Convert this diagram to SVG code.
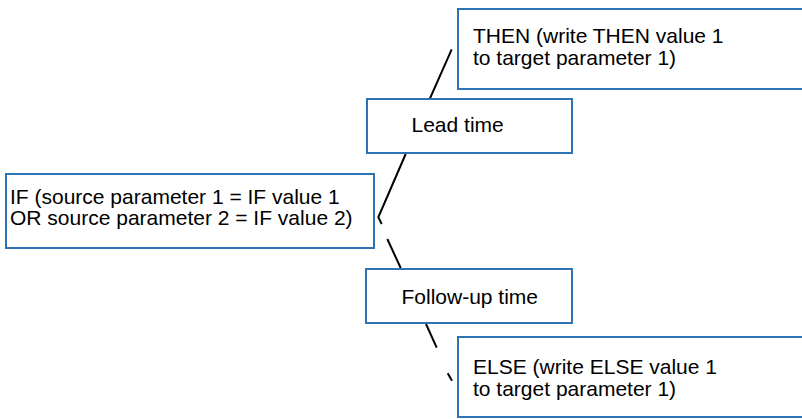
<svg xmlns="http://www.w3.org/2000/svg" width="802" height="419" viewBox="0 0 802 419">
<style>
.box{fill:#fff;stroke:#2E74B5;stroke-width:2}
.t{font-family:"Liberation Sans",Arial,sans-serif;font-size:21px;fill:#000}
.ln{stroke:#000;stroke-width:2;fill:none}
</style>
<rect width="802" height="419" fill="#fff"/>
<g id="connectors">
<line class="ln" x1="451.7" y1="49.3" x2="430" y2="98.3"/>
<polyline class="ln" points="405.7,154 378.3,217.3 381.7,224"/>
<line class="ln" x1="387.3" y1="239" x2="400.7" y2="268"/>
<line class="ln" x1="426" y1="324" x2="436.7" y2="347.7"/>
<line class="ln" x1="447.7" y1="373.3" x2="452" y2="380.7"/>
</g>
<g id="then">
<rect class="box" x="458" y="9" width="360" height="80"/>
<text class="t" x="473" y="43">THEN (write THEN value 1</text>
<text class="t" x="473" y="65">to target parameter 1)</text>
</g>
<g id="lead">
<rect class="box" x="367" y="99" width="205" height="54"/>
<text class="t" x="411.5" y="132">Lead time</text>
</g>
<g id="if">
<rect class="box" x="6" y="174" width="368" height="74"/>
<text class="t" x="10" y="203.5">IF (source parameter 1 = IF value 1</text>
<text class="t" x="10" y="224.5">OR source parameter 2 = IF value 2)</text>
</g>
<g id="followup">
<rect class="box" x="366" y="269" width="206" height="54"/>
<text class="t" x="401.5" y="303.5">Follow-up time</text>
</g>
<g id="else">
<rect class="box" x="458" y="337" width="360" height="80"/>
<text class="t" x="473" y="373.5">ELSE (write ELSE value 1</text>
<text class="t" x="473" y="396">to target parameter 1)</text>
</g>
</svg>
